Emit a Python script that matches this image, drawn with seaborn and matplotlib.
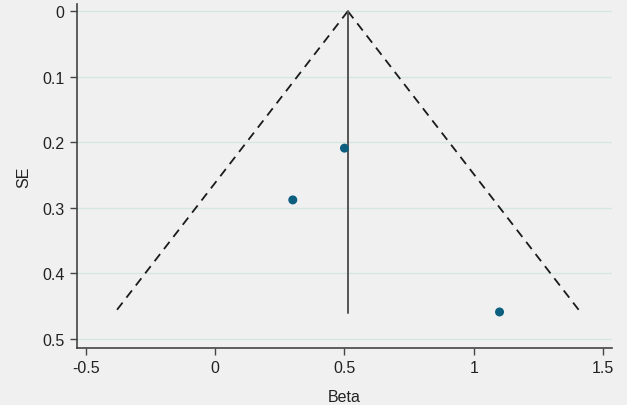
import numpy as np
import pandas as pd
import matplotlib
matplotlib.use("Agg")
import matplotlib.pyplot as plt
import seaborn as sns

# study estimates
beta = [0.50, 0.30, 1.10]
se = [0.209, 0.288, 0.459]
pooled = 0.513
se_max = 0.46

xticks = [-0.5, 0, 0.5, 1, 1.5]
xtick_labels = ["-0.5", "0", "0.5", "1", "1.5"]
yticks = [0, 0.1, 0.2, 0.3, 0.4, 0.5]
ytick_labels = ["0", "0.1", "0.2", "0.3", "0.4", "0.5"]

bg = "#f0f0f0"
sns.set_style("white")
plt.rcParams["font.family"] = ["Liberation Sans Narrow", "Liberation Sans", "DejaVu Sans"]

df = pd.DataFrame({"Beta": beta, "SE": se})

fig = plt.figure(figsize=(6.27, 4.06), dpi=100, facecolor=bg)
ax = fig.add_axes([0.1228, 0.1404, 0.8532, 0.8473])
ax.set_facecolor(bg)

for y in yticks:
    ax.axhline(y, color="#d6e6e3", lw=1.0, zorder=0)

# pseudo 95% confidence limits
se_line = np.array([0, se_max])
ax.plot(pooled - 1.96 * se_line, se_line, color="#1a1a1a", lw=1.3, ls=(0, (5, 3.5)))
ax.plot(pooled + 1.96 * se_line, se_line, color="#1a1a1a", lw=1.3, ls=(0, (5, 3.5)))
ax.plot([pooled, pooled], se_line, color="#555555", lw=1.4)

sns.scatterplot(data=df, x="Beta", y="SE", ax=ax, s=42, color="#0d5f80",
                edgecolor="none", zorder=3)

ax.set_xlim(-0.535, 1.535)
ax.set_ylim(0.514, -0.011)
ax.set_xticks(xticks)
ax.set_xticklabels(xtick_labels)
ax.set_yticks(yticks)
ax.set_yticklabels(ytick_labels)
ax.tick_params(axis="both", direction="out", length=5, width=1, color="#444444",
               labelsize=11.5, labelcolor="#222222", pad=4, bottom=True, left=True)
ax.set_xlabel("Beta", fontsize=11.5, color="#222222", labelpad=9.5)
ax.set_ylabel("SE", fontsize=11.5, color="#222222", labelpad=8)

for side in ["top", "right"]:
    ax.spines[side].set_visible(False)
for side in ["left", "bottom"]:
    ax.spines[side].set_color("#444444")
    ax.spines[side].set_linewidth(1.2)

fig.savefig("out.png", dpi=100, facecolor=bg)
